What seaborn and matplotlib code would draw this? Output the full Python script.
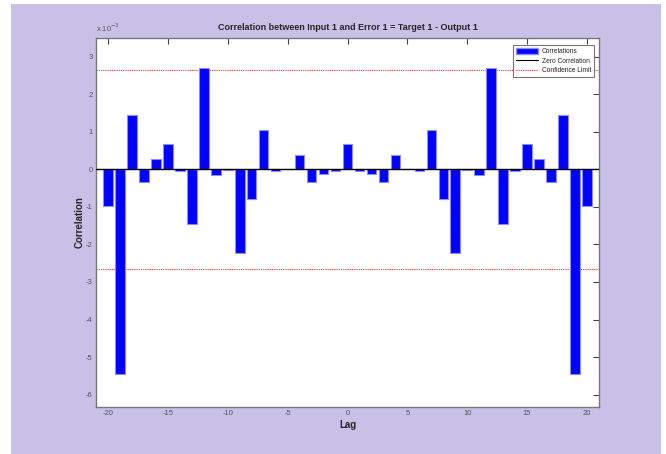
import numpy as np
import pandas as pd
import matplotlib
matplotlib.use("Agg")
import matplotlib.pyplot as plt
from matplotlib.patches import Rectangle, Patch
from matplotlib.lines import Line2D
import seaborn as sns

# Cross-correlation of input 1 with error 1, lags -20..20 (values in units of 1e-3)
lags = list(range(-20, 21))
corr_e3 = [-0.97, -5.45, 1.45, -0.34, 0.27, 0.68, -0.03, -1.46, 2.71, -0.14,
           -0.02, -2.23, -0.80, 1.04, -0.03, 0.02, 0.37, -0.33, -0.13, -0.03,
           0.68,
           -0.03, -0.13, -0.33, 0.37, 0.02, -0.03, 1.04, -0.80, -2.23, -0.02,
           -0.14, 2.71, -1.46, -0.03, 0.68, 0.27, -0.34, 1.45, -5.45, -0.97]
conf_limit_e3 = 2.65
y_ticks = [-6, -5, -4, -3, -2, -1, 0, 1, 2, 3]
x_ticks = [-20, -15, -10, -5, 0, 5, 10, 15, 20]

df = pd.DataFrame({"Lag": lags, "Correlation": corr_e3})

sns.set_style("white")
plt.rcParams["font.family"] = ["Liberation Sans", "DejaVu Sans"]

fig = plt.figure(figsize=(6.66, 4.54), dpi=100)
fig.patch.set_facecolor("white")
# lavender panel behind the axes
fig.patches.append(Rectangle((11 / 666, 0), 650 / 666, 1 - 4 / 454,
                             transform=fig.transFigure, facecolor="#C8C0E6",
                             edgecolor="none", zorder=-10))

ax = fig.add_axes([96 / 666, 1 - 407 / 454, 503 / 666, 369 / 454])
ax.set_facecolor("white")

sns.barplot(data=df, x="Lag", y="Correlation", native_scale=True, width=0.8,
            color="#0000FF", saturation=1, edgecolor="#8C8CFF", linewidth=0.8,
            ax=ax, zorder=2)

ax.axhline(0, color="black", linewidth=1.0, zorder=3)
for s in (1, -1):
    ax.axhline(s * conf_limit_e3, color="#FF3030", linestyle=(0, (1, 1)),
               linewidth=0.8, zorder=1)

ax.set_xlim(-21, 21)
ax.set_ylim(-6.33, 3.5)
ax.set_xticks(x_ticks)
ax.set_xticklabels([str(v) for v in x_ticks])
ax.set_yticks(y_ticks)
ax.set_yticklabels([str(v) for v in y_ticks])
ax.tick_params(direction="in", length=4, width=0.8, colors="#444444",
               labelsize=5.5, labelcolor="#555555", top=True, right=True,
               pad=2.5)
for sp in ax.spines.values():
    sp.set_color("#777777")
    sp.set_linewidth(1.0)

ax.set_xlabel("Lag", fontsize=7, fontweight="bold", labelpad=2)
ax.set_ylabel("Correlation", fontsize=7, fontweight="bold")
ax.yaxis.set_label_coords(-0.022, 0.5)
ax.set_title("Correlation between Input 1 and Error 1 = Target 1 - Output 1",
             fontsize=6.5, fontweight="bold", pad=6)
ax.text(0.0, 1.01, r"x 10$^{-3}$", transform=ax.transAxes, fontsize=5.5,
        color="#555555", ha="left", va="bottom")

handles = [Patch(facecolor="#0000FF", edgecolor="#8C8CFF"),
           Line2D([], [], color="black", linewidth=0.8),
           Line2D([], [], color="#FF3030", linestyle=(0, (1, 1)), linewidth=0.8)]
leg = ax.legend(handles, ["Correlations", "Zero Correlation", "Confidence Limit"],
                loc="upper right", fontsize=4.8, frameon=True, fancybox=False,
                borderpad=0.4, handlelength=3.4, handleheight=1.0,
                handletextpad=0.5, labelspacing=0.35,
                bbox_to_anchor=(0.996, 0.99))
leg.get_frame().set_edgecolor("#555555")
leg.get_frame().set_linewidth(0.8)

fig.savefig("out.png", dpi=100)
